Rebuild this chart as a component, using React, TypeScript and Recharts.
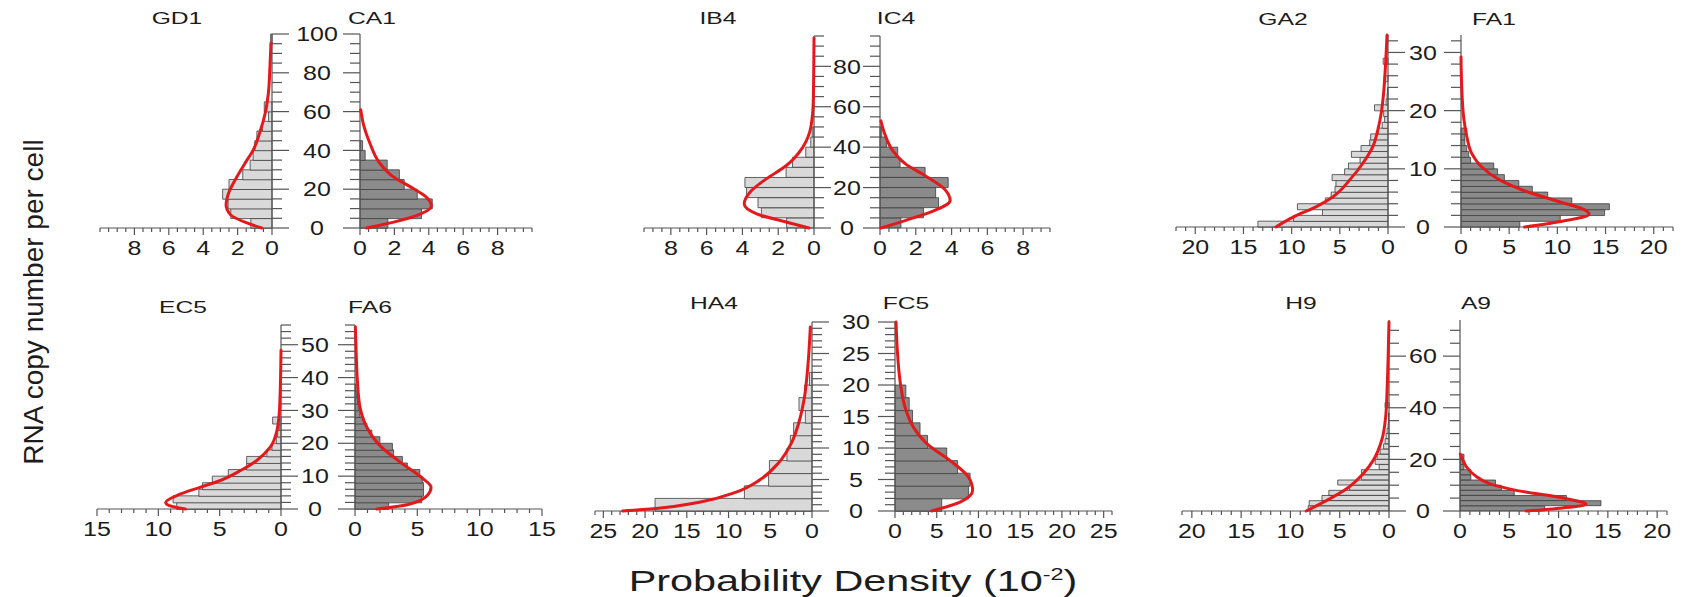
import { Bar, ComposedChart, Line, LineChart, XAxis, YAxis } from "recharts";

type Curve = [number, number][];

// histogram bin heights (probability density, x10^-2), bins start at 0
const gd1Bins = [1.23, 2.4, 2.55, 2.87, 2.5, 1.7, 1.27, 1.1, 1.0, 0.88, 0.55, 0.2, 0.45, 0, 0, 0, 0, 0, 0, 0.08];
const ca1Bins = [1.62, 3.58, 4.2, 3.33, 2.57, 2.29, 1.58, 0.3, 0.15];
const ib4Bins = [1.53, 2.94, 3.13, 3.77, 3.86, 1.56, 1.2, 0.46, 0.18, 0.1];
const ic4Bins = [1.17, 2.43, 3.27, 3.11, 3.81, 2.52, 1.12, 0.99, 0.36, 0.1];
const ga2Bins = [13.5, 9.8, 6.8, 9.4, 6.5, 5.9, 5.5, 5.4, 5.8, 4.5, 4.1, 2.9, 3.8, 2.8, 1.9, 1.8, 1.0, 0.6, 0.35, 0.45, 1.4, 0.2, 0.1, 0.05, 0, 0.4, 0, 0, 0.5];
const fa1Bins = [6.1, 10.3, 14.9, 15.4, 11.5, 9.0, 7.4, 6.0, 4.5, 3.8, 3.4, 1.0, 0.8, 0.6, 0.4, 0.4, 0.6];
const ec5Bins = [8.5, 8.8, 6.7, 6.4, 5.6, 4.3, 2.8, 2.8, 1.15, 0.74, 0.38, 0.27, 0.14, 0.68];
const fa6Bins = [2.7, 5.35, 5.5, 5.5, 5.4, 5.2, 4.2, 3.8, 3.1, 3.0, 2.0, 1.35, 0.95, 0.7, 0.4, 0.27, 0.2, 0.14, 0.08];
const ha4Bins = [18.8, 8.1, 5.2, 5.1, 3.0, 2.6, 2.2, 0.8, 1.56, 0.9, 0.3];
const fc5Bins = [5.6, 8.8, 9.0, 7.5, 6.2, 3.9, 3.0, 2.1, 1.7, 1.3];
const h9Bins = [8.2, 8.1, 6.8, 6.1, 4.0, 5.2, 2.8, 2.8, 1.0, 1.4, 1.2, 0.9, 0.55, 0.4, 0.3, 0.2, 0.1, 0.05, 0.05, 0, 0.4];
const a9Bins = [8.6, 14.3, 10.8, 5.5, 4.2, 3.6, 1.1, 1.1, 0.4, 0.35, 0.4];

// fitted curves as [copy number, density]
const gd1Curve: Curve = [[0, 0.6], [2.6, 1.46], [6.9, 2.42], [12, 2.67], [18, 2.52], [25, 2.13], [33.5, 1.56], [40.4, 1.08], [49.8, 0.69], [59, 0.4], [69.6, 0.21], [83, 0.12], [95.4, 0.06]];
const ca1Curve: Curve = [[0, 0.38], [2.9, 1.9], [6.9, 3.43], [11.2, 4.15], [16.3, 3.81], [20.6, 3.05], [26.6, 1.9], [33.5, 1.14], [43.8, 0.57], [52.4, 0.23], [61, 0.04]];
const ib4Curve: Curve = [[0, 0.28], [3, 1.56], [7, 3.2], [12, 3.9], [17.7, 3.58], [24.3, 2.67], [30.8, 1.56], [39.8, 0.64], [49.7, 0.18], [62.8, 0.04], [94, 0]];
const ic4Curve: Curve = [[0, 0.05], [3.8, 1.44], [8.7, 3.06], [13.6, 3.92], [19.3, 3.6], [25.9, 2.52], [31.6, 1.44], [38.2, 0.72], [46.4, 0.27], [53, 0.05]];
const ga2Curve: Curve = [[0, 11.64], [1.7, 9.84], [3.5, 7.43], [5.2, 5.7], [8.1, 3.97], [11, 2.59], [13.9, 1.55], [16.8, 1.04], [19.7, 0.69], [23.1, 0.45], [27.2, 0.28], [33, 0.1]];
const fa1Curve: Curve = [[0, 6.6], [1, 10.5], [2.2, 13.3], [3.2, 12.5], [4.3, 10.3], [6.1, 6.8], [8.1, 4.0], [10.4, 2.1], [12.7, 1.1], [15.6, 0.6], [18.5, 0.3], [24.3, 0.07], [29.2, 0]];
const ec5Curve: Curve = [[0, 7.8], [1, 9.1], [2, 9.4], [4.1, 8.5], [6.6, 6.6], [8.6, 5.0], [11.7, 3.3], [14.7, 2.0], [18.8, 0.88], [23.9, 0.33], [31, 0.11], [48.3, 0]];
const fa6Curve: Curve = [[0, 1.76], [1.3, 4.2], [4.1, 5.8], [6.6, 6.1], [9.7, 5.3], [14.2, 3.65], [19.3, 2.0], [24.9, 0.95], [31, 0.4], [39.1, 0.19], [49.3, 0.08], [55.4, 0.03]];
const ha4Curve: Curve = [[0, 22.7], [0.4, 18.7], [1.4, 13.5], [3, 9.1], [4.9, 6.3], [7.5, 4.1], [10.7, 2.5], [14.4, 1.5], [18.1, 0.9], [22.9, 0.5], [29.2, 0.2]];
const fc5Curve: Curve = [[0, 4.4], [1.4, 7.8], [3.3, 9.3], [5.4, 8.8], [8, 6.6], [10.7, 3.8], [13.3, 2.2], [16.5, 1.2], [20.7, 0.6], [25.5, 0.28], [30, 0.12]];
const h9Curve: Curve = [[0, 8.4], [4.1, 6.3], [8.6, 4.3], [14.5, 2.6], [19.6, 1.6], [27.4, 0.74], [36.4, 0.34], [49.3, 0.17], [62.2, 0.07], [73.2, 0]];
const a9Curve: Curve = [[0, 6.7], [1.2, 10.4], [2.6, 12.8], [4.8, 10.8], [8, 5.7], [10.6, 3.0], [13.8, 1.5], [17, 0.67], [20.9, 0.17], [22, 0.03]];

// tick labels
const xLabelsSmall = [0, 2, 4, 6, 8];
const xLabels20 = [0, 5, 10, 15, 20];
const xLabels15 = [0, 5, 10, 15];
const xLabels25 = [0, 5, 10, 15, 20, 25];
const yLabels100 = [0, 20, 40, 60, 80, 100];
const yLabels80 = [0, 20, 40, 60, 80];
const yLabels30 = [0, 10, 20, 30];
const yLabels50 = [0, 10, 20, 30, 40, 50];
const yLabels30by5 = [0, 5, 10, 15, 20, 25, 30];
const yLabels60 = [0, 20, 40, 60];

const FONT = '"Liberation Sans", Arial, Helvetica, sans-serif';
const AXIS = "#555";
const INK = "#1c1c1c";
const RED = "#e3191c";
const LIGHT = "#d9d9d9";
const DARK = "#8b8b8b";
const OUTLINE = "#3d3d3d";

const PAD_T = 12;
const AX_H = 40;
const Y_W = 80;
const PAD_S = 30;

function steps(max: number, step: number) {
  const out: number[] = [];
  const n = Math.floor(max / step + 1e-9);
  for (let i = 0; i <= n; i++) out.push(Math.round(i * step * 100) / 100);
  return out;
}

interface HalfProps {
  bins: number[];
  binWidth: number;
  curve: Curve;
  side: "L" | "R";
  fill: string;
  xMax: number;
  xStep: number;
  xLabels: number[];
  yMax: number;
  yStep: number;
  yLabels: number[];
  zeroX: number;
  endX: number;
  zeroY: number;
  topY: number;
  labelX: number;
}

function Half(p: HalfProps) {
  const isL = p.side === "L";
  const plotW = Math.abs(p.endX - p.zeroX);
  const plotH = p.zeroY - p.topY;
  const width = PAD_S + plotW + Y_W;
  const height = PAD_T + plotH + AX_H;
  const left = isL ? p.endX - PAD_S : p.zeroX - Y_W;
  const top = p.topY - PAD_T;
  const barData = p.bins.map((v, i) => ({ n: (i + 0.5) * p.binWidth, p: v }));
  const lineData = p.curve.map(([n, v]) => ({ n, p: v }));
  const labelDx = p.labelX - p.zeroX;

  const renderXTick = (props: any) => {
    const { x, y, payload } = props;
    const major = p.xLabels.includes(payload.value);
    return (
      <g>
        <line x1={x} y1={y} x2={x} y2={y + (major ? 7 : 4)} stroke={AXIS} strokeWidth={1.2} />
        {major && (
          <text
            transform={`translate(${x},${y + 20}) scale(1.25,1)`}
            textAnchor="middle"
            dy="0.36em"
            fontSize={20}
            fontFamily={FONT}
            fill={INK}
          >
            {payload.value}
          </text>
        )}
      </g>
    );
  };

  const renderYTick = (props: any) => {
    const { x, y, payload } = props;
    const major = p.yLabels.includes(payload.value);
    const dir = isL ? 1 : -1;
    return (
      <g>
        <line x1={x} y1={y} x2={x + dir * (major ? 17 : 10)} y2={y} stroke={AXIS} strokeWidth={1.2} />
        {isL && major && (
          <text
            transform={`translate(${x + labelDx},${y}) scale(1.25,1)`}
            textAnchor="middle"
            dy="0.36em"
            fontSize={20}
            fontFamily={FONT}
            fill={INK}
          >
            {payload.value}
          </text>
        )}
      </g>
    );
  };

  return (
    <div style={{ position: "absolute", left, top, width, height }}>
      <div style={{ position: "absolute", left: 0, top: 0 }}>
        <ComposedChart
          width={width}
          height={height}
          layout="vertical"
          data={barData}
          margin={{ top: PAD_T, bottom: 0, left: isL ? PAD_S : 0, right: isL ? 0 : PAD_S }}
          barCategoryGap={0}
          barGap={0}
        >
          <XAxis
            type="number"
            domain={[0, p.xMax]}
            reversed={isL}
            ticks={steps(p.xMax, p.xStep)}
            interval={0}
            height={AX_H}
            tickSize={0}
            tickMargin={0}
            tickLine={false}
            axisLine={{ stroke: AXIS, strokeWidth: 1.2 }}
            tick={renderXTick}
          />
          <YAxis
            type="number"
            dataKey="n"
            domain={[0, p.yMax]}
            reversed
            orientation={isL ? "right" : "left"}
            width={Y_W}
            ticks={steps(p.yMax, p.yStep)}
            interval={0}
            tickSize={0}
            tickMargin={0}
            tickLine={false}
            axisLine={{ stroke: AXIS, strokeWidth: 1.2 }}
            tick={renderYTick}
          />
          <Bar dataKey="p" fill={p.fill} stroke={OUTLINE} strokeWidth={0.8} isAnimationActive={false} />
        </ComposedChart>
      </div>
      <div style={{ position: "absolute", left: 0, top: 0 }}>
        <LineChart
          width={width}
          height={height}
          layout="vertical"
          data={lineData}
          margin={{ top: PAD_T, bottom: AX_H, left: isL ? PAD_S : Y_W, right: isL ? Y_W : PAD_S }}
        >
          <XAxis type="number" hide domain={[0, p.xMax]} reversed={isL} />
          <YAxis type="number" hide dataKey="n" domain={[0, p.yMax]} reversed />
          <Line
            type="monotone"
            dataKey="p"
            stroke={RED}
            strokeWidth={3}
            strokeLinecap="round"
            dot={false}
            activeDot={false}
            isAnimationActive={false}
          />
        </LineChart>
      </div>
    </div>
  );
}

const titles = [
  { text: "GD1", x: 177, y: 18 },
  { text: "CA1", x: 372, y: 18 },
  { text: "IB4", x: 718, y: 18 },
  { text: "IC4", x: 896, y: 18 },
  { text: "GA2", x: 1283, y: 19 },
  { text: "FA1", x: 1494, y: 19 },
  { text: "EC5", x: 183, y: 307 },
  { text: "FA6", x: 370, y: 307 },
  { text: "HA4", x: 714, y: 303 },
  { text: "FC5", x: 906, y: 303 },
  { text: "H9", x: 1301, y: 303 },
  { text: "A9", x: 1476, y: 303 },
];

export default function App() {
  return (
    <div style={{ position: "absolute", left: 0, top: 0, width: 1690, height: 597, background: "#fff", overflow: "hidden" }}>
      {/* top row */}
      <Half side="L" bins={gd1Bins} binWidth={5} curve={gd1Curve} fill={LIGHT} xMax={10} xStep={0.5} xLabels={xLabelsSmall}
        yMax={100} yStep={5} yLabels={yLabels100} zeroX={272} endX={100} zeroY={228} topY={34} labelX={317} />
      <Half side="R" bins={ca1Bins} binWidth={5} curve={ca1Curve} fill={DARK} xMax={10} xStep={0.5} xLabels={xLabelsSmall}
        yMax={100} yStep={5} yLabels={yLabels100} zeroX={360} endX={532} zeroY={228} topY={34} labelX={317} />
      <Half side="L" bins={ib4Bins} binWidth={5} curve={ib4Curve} fill={LIGHT} xMax={9.5} xStep={0.5} xLabels={xLabelsSmall}
        yMax={95} yStep={5} yLabels={yLabels80} zeroX={814} endX={644} zeroY={228} topY={36} labelX={847} />
      <Half side="R" bins={ic4Bins} binWidth={5} curve={ic4Curve} fill={DARK} xMax={9.5} xStep={0.5} xLabels={xLabelsSmall}
        yMax={95} yStep={5} yLabels={yLabels80} zeroX={880} endX={1050} zeroY={228} topY={36} labelX={847} />
      <Half side="L" bins={ga2Bins} binWidth={1} curve={ga2Curve} fill={LIGHT} xMax={22} xStep={1} xLabels={xLabels20}
        yMax={33} yStep={2} yLabels={yLabels30} zeroX={1388} endX={1176} zeroY={227} topY={35} labelX={1423} />
      <Half side="R" bins={fa1Bins} binWidth={1} curve={fa1Curve} fill={DARK} xMax={22} xStep={1} xLabels={xLabels20}
        yMax={33} yStep={2} yLabels={yLabels30} zeroX={1461} endX={1673} zeroY={227} topY={35} labelX={1423} />

      {/* bottom row */}
      <Half side="L" bins={ec5Bins} binWidth={2} curve={ec5Curve} fill={LIGHT} xMax={15} xStep={1} xLabels={xLabels15}
        yMax={56} yStep={2} yLabels={yLabels50} zeroX={281} endX={97} zeroY={509} topY={325} labelX={315} />
      <Half side="R" bins={fa6Bins} binWidth={2} curve={fa6Curve} fill={DARK} xMax={15} xStep={1} xLabels={xLabels15}
        yMax={56} yStep={2} yLabels={yLabels50} zeroX={355} endX={542} zeroY={509} topY={325} labelX={315} />
      <Half side="L" bins={ha4Bins} binWidth={2} curve={ha4Curve} fill={LIGHT} xMax={26} xStep={1} xLabels={xLabels25}
        yMax={30} yStep={1} yLabels={yLabels30by5} zeroX={812} endX={595} zeroY={511} topY={322} labelX={856} />
      <Half side="R" bins={fc5Bins} binWidth={2} curve={fc5Curve} fill={DARK} xMax={26} xStep={1} xLabels={xLabels25}
        yMax={30} yStep={1} yLabels={yLabels30by5} zeroX={895} endX={1112} zeroY={511} topY={322} labelX={856} />
      <Half side="L" bins={h9Bins} binWidth={2} curve={h9Curve} fill={LIGHT} xMax={21} xStep={1} xLabels={xLabels20}
        yMax={74} yStep={5} yLabels={yLabels60} zeroX={1389} endX={1182} zeroY={511} topY={320} labelX={1423} />
      <Half side="R" bins={a9Bins} binWidth={2} curve={a9Curve} fill={DARK} xMax={21} xStep={1} xLabels={xLabels20}
        yMax={74} yStep={5} yLabels={yLabels60} zeroX={1460} endX={1667} zeroY={511} topY={320} labelX={1423} />

      <svg width={1690} height={597} style={{ position: "absolute", left: 0, top: 0, pointerEvents: "none" }}>
        {titles.map((t) => (
          <text
            key={t.text}
            transform={`translate(${t.x},${t.y}) scale(1.45,1)`}
            textAnchor="middle"
            dy="0.36em"
            fontSize={17}
            fontFamily={FONT}
            fill={INK}
          >
            {t.text}
          </text>
        ))}
        <text transform="translate(43,302) rotate(-90)" textAnchor="middle" fontSize={28} fontFamily={FONT} fill={INK}>
          RNA copy number per cell
        </text>
        <text transform="translate(853,580) scale(1.38,1)" textAnchor="middle" dy="0.36em" fontSize={30} fontFamily={FONT} fill={INK}>
          Probability Density (10<tspan dy={-11} fontSize={17}>-2</tspan><tspan dy={11}>)</tspan>
        </text>
      </svg>
    </div>
  );
}
